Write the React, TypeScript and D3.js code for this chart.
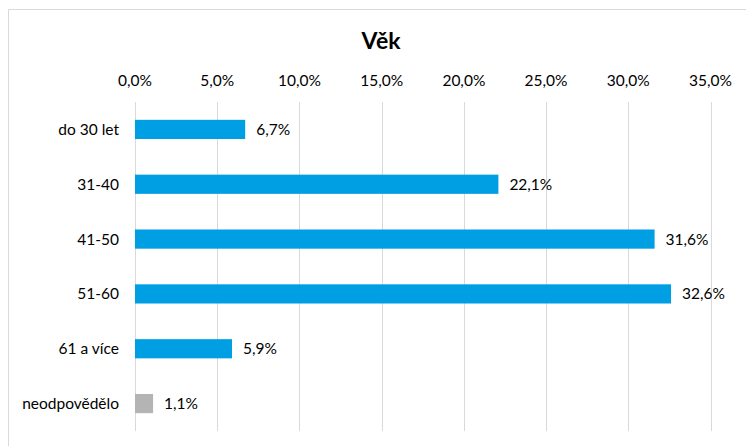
import React from "react";
import * as d3 from "d3";

const categories = ["do 30 let", "31-40", "41-50", "51-60", "61 a více", "neodpovědělo"];
const values = [6.7, 22.1, 31.6, 32.6, 5.9, 1.1];
const barColors = ["#009FE3", "#009FE3", "#009FE3", "#009FE3", "#009FE3", "#B4B4B4"];
const ticks = [0, 5, 10, 15, 20, 25, 30, 35];
const title = "Věk";

const W = 746;
const H = 446;
const FONT = "Lato, 'Open Sans', sans-serif";
const FS = 15.5;

const fmt = (v: number) => v.toFixed(1).replace(".", ",") + "%";

export default function App() {
  const x = d3.scaleLinear().domain([0, 35]).range([135, 710.5]);
  const y = d3
    .scaleBand<string>()
    .domain(categories)
    .range([102, 431])
    .paddingInner(0.65)
    .paddingOuter(0.325);
  const bw = y.bandwidth();

  return (
    <svg
      width={W}
      height={H}
      style={{ position: "absolute", left: 0, top: 0, background: "#fff" }}
      fontFamily={FONT}
    >
      <rect x={0} y={0} width={W} height={H} fill="#fff" />
      <line x1={8.5} y1={9.5} x2={W} y2={9.5} stroke="#D9D9D9" strokeWidth={1} />
      <line x1={8.5} y1={9.5} x2={8.5} y2={H} stroke="#D9D9D9" strokeWidth={1} />

      <text x={381} y={49} textAnchor="middle" fontSize={23} fontWeight="bold" fill="#000">
        {title}
      </text>

      {ticks.map((t) => (
        <g key={t}>
          <line
            x1={Math.round(x(t)) + 0.5}
            x2={Math.round(x(t)) + 0.5}
            y1={102}
            y2={431}
            stroke="#D9D9D9"
            strokeWidth={1}
          />
          <text x={x(t)} y={86} textAnchor="middle" fontSize={FS} fill="#000">
            {fmt(t)}
          </text>
        </g>
      ))}

      {categories.map((c, i) => {
        const yy = y(c)!;
        const cy = yy + bw / 2;
        return (
          <g key={c}>
            <rect x={x(0)} y={yy} width={x(values[i]) - x(0)} height={bw} fill={barColors[i]} />
            <text x={119} y={cy} dy="0.36em" textAnchor="end" fontSize={FS} fill="#000">
              {c}
            </text>
            <text x={x(values[i]) + 11} y={cy} dy="0.36em" fontSize={FS} fill="#000">
              {fmt(values[i])}
            </text>
          </g>
        );
      })}
    </svg>
  );
}
